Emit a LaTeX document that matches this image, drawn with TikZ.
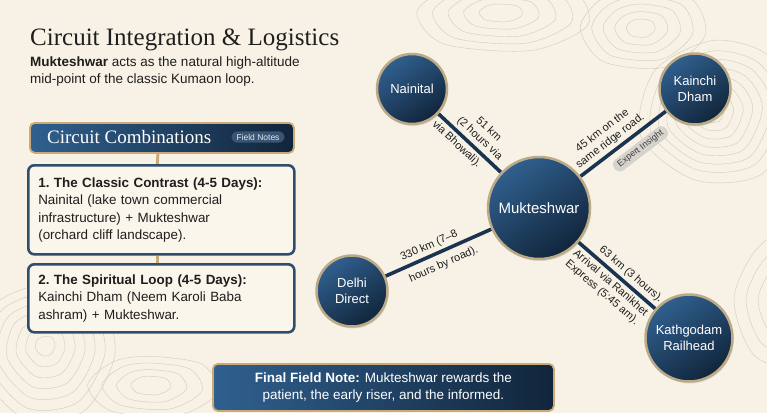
\documentclass[tikz,border=0pt]{standalone}
\usepackage{fontspec}
\newfontfamily\rob{Liberation Sans}
\newfontfamily\ttl{Liberation Serif}
\usetikzlibrary{shadows}
\definecolor{bgc}{HTML}{F7F2E5}
\definecolor{navyL}{HTML}{30608F}
\definecolor{navyD}{HTML}{11253B}
\definecolor{roadc}{HTML}{1A3350}
\definecolor{goldc}{HTML}{C8AB78}
\definecolor{ringc}{HTML}{BCA985}
\definecolor{boxborder}{HTML}{2F4E6E}
\definecolor{boxfill}{HTML}{FAF6EC}
\definecolor{textc}{HTML}{1E1E1E}
\definecolor{contc}{HTML}{C9BEA8}
\definecolor{pillc}{HTML}{3A5573}
\definecolor{graypill}{HTML}{D6D3CC}
\pgfdeclarelayer{back}
\pgfdeclarelayer{bg}
\pgfsetlayers{back,bg,main}
\begin{document}
\begin{tikzpicture}[x=1pt,y=-1pt,
  city/.style={circle, draw=ringc, line width=2.5pt, top color=navyL, bottom color=navyD, shading angle=35,
    text=white, align=center, inner sep=0pt, font=\rob\fontsize{13}{15.5}\selectfont,
    drop shadow={shadow xshift=1pt, shadow yshift=-2pt, opacity=0.22}},
  road/.style={draw=roadc, line width=3.6pt},
  lab/.style={font=\rob\fontsize{11}{13}\selectfont, text=textc, align=center, sloped, inner sep=3pt},
  darkbox/.style={rounded corners=5pt, draw=goldc, line width=1.8pt, left color=navyL, right color=navyD},
  lightbox/.style={rounded corners=6pt, draw=boxborder, line width=2.6pt, fill=boxfill},
  goldline/.style={draw=goldc, line width=3pt},
  contour/.style={draw=contc, line width=0.45pt, opacity=0.7},
]
\useasboundingbox (0,0) rectangle (767,413);
\begin{pgfonlayer}{back}
\fill[bgc] (0,0) rectangle (767,413);
% topographic contours
\foreach \s in {0.25,0.45,0.65,0.85,1.05,1.25,1.45,1.7}{
  \draw[contour, shift={(712,112)}, scale=\s] plot[smooth cycle] coordinates {(0,-42) (32,-34) (48,-4) (30,36) (-10,40) (-42,14) (-34,-24)};
}
\foreach \s in {0.3,0.55,0.8,1.05,1.3}{
  \draw[contour, shift={(640,28)}, scale=\s] plot[smooth cycle] coordinates {(0,-30) (40,-22) (50,6) (20,30) (-28,26) (-46,0) (-30,-22)};
}
\foreach \s in {0.4,0.7,1.0,1.3,1.6}{
  \draw[contour, shift={(500,12)}, scale=\s] plot[smooth cycle] coordinates {(0,-20) (45,-14) (55,8) (20,24) (-35,20) (-52,0) (-30,-16)};
}
\foreach \s in {0.25,0.5,0.75,1.0,1.25,1.5,1.75}{
  \draw[contour, shift={(45,345)}, scale=\s] plot[smooth cycle] coordinates {(0,-35) (30,-28) (40,5) (22,38) (-12,42) (-38,12) (-30,-22)};
}
\foreach \s in {0.4,0.7,1.0,1.3}{
  \draw[contour, shift={(150,385)}, scale=\s] plot[smooth cycle] coordinates {(0,-22) (40,-16) (52,6) (20,24) (-30,20) (-48,0) (-28,-18)};
}
\foreach \s in {0.5,0.8,1.1,1.4}{
  \draw[contour, shift={(790,300)}, scale=\s] plot[smooth cycle] coordinates {(0,-50) (30,-30) (35,10) (15,50) (-25,40) (-40,0) (-25,-35)};
}
\end{pgfonlayer}

% title and subtitle
\node[anchor=base west, inner sep=0pt, text=textc, font=\ttl\fontsize{25}{29}\selectfont] (title) at (30,45) {Circuit Integration \& Logistics};
\node[anchor=north west, inner sep=0pt, text=textc, align=left, font=\rob\fontsize{13.5}{17}\selectfont] (sub) at (30,57)
  {\textbf{Mukteshwar} acts as the natural high-altitude\\mid-point of the classic Kumaon loop.};

% left column
\node[darkbox, minimum width=264pt, minimum height=30pt, anchor=north west] (hdr) at (29,122) {};
\node[anchor=west, text=white, inner sep=0pt, font=\ttl\fontsize{19}{21}\selectfont] (hdrt) at (47,137) {Circuit Combinations};
\node[fill=pillc, rounded corners=6pt, text=white!85!navyL, inner xsep=5pt, inner ysep=2.5pt, font=\rob\fontsize{8.5}{9}\selectfont] (fn) at (258,137) {Field Notes};

\node[lightbox, minimum width=266pt, minimum height=89pt, anchor=north west, text width=246pt, inner xsep=10pt, align=left,
  text=textc, font=\rob\fontsize{13.4}{17.5}\selectfont] (b1) at (27,164)
  {\textbf{1.\ The Classic Contrast (4-5 Days):}\\Nainital (lake town commercial\\infrastructure) + Mukteshwar\\(orchard cliff landscape).};
\node[lightbox, minimum width=266pt, minimum height=68pt, anchor=north west, text width=246pt, inner xsep=10pt, align=left,
  text=textc, font=\rob\fontsize{13.4}{17.5}\selectfont] (b2) at (27,263)
  {\textbf{2.\ The Spiritual Loop (4-5 Days):}\\Kainchi Dham (Neem Karoli Baba\\ashram) + Mukteshwar.};
\begin{pgfonlayer}{bg}
\draw[goldline] ([xshift=-4pt]hdr.south) -- ([xshift=-4pt]b1.north);
\draw[goldline] ([xshift=-4pt]b1.south) -- ([xshift=-4pt]b2.north);
\end{pgfonlayer}

% map nodes
\node[city, minimum size=70pt] (nai) at (412,89) {Nainital};
\node[city, minimum size=71pt] (kai) at (695,89) {Kainchi\\Dham};
\node[city, minimum size=102pt, font=\rob\fontsize{15}{18}\selectfont] (muk) at (539,208) {Mukteshwar};
\node[city, minimum size=71pt] (del) at (352,291) {Delhi\\Direct};
\node[city, minimum size=87pt] (kat) at (689,338) {Kathgodam\\Railhead};

\begin{pgfonlayer}{bg}
\draw[road] (nai) -- (muk)
  node[lab, pos=0.55, above] {51 km\\(2 hours via}
  node[lab, pos=0.4, below] {via Bhowali).};
\draw[road] (muk) -- (kai)
  node[lab, pos=0.42, above] {45 km on the\\same ridge road.}
  node[pos=0.6, below=6pt, sloped, fill=graypill, rounded corners=6pt, inner xsep=5pt, inner ysep=2.5pt, text=black!75, font=\rob\fontsize{9}{10}\selectfont] (ei) {Expert Insight};
\draw[road] (del) -- (muk)
  node[lab, pos=0.45, above] {330 km (7–8}
  node[lab, pos=0.5, below=3pt] {hours by road).};
\draw[road] (muk) -- (kat)
  node[lab, pos=0.6, above] {63 km (3 hours).}
  node[lab, pos=0.5, below] {Arrival via Ranikhet\\Express (5:45 am).};
\end{pgfonlayer}

% final note
\node[darkbox, minimum width=341pt, minimum height=47pt, anchor=north west, align=center, text=white,
  font=\rob\fontsize{13.5}{17}\selectfont] (fin) at (212,363)
  {\textbf{Final Field Note:} Mukteshwar rewards the\\patient, the early riser, and the informed.};
\end{tikzpicture}
\end{document}
